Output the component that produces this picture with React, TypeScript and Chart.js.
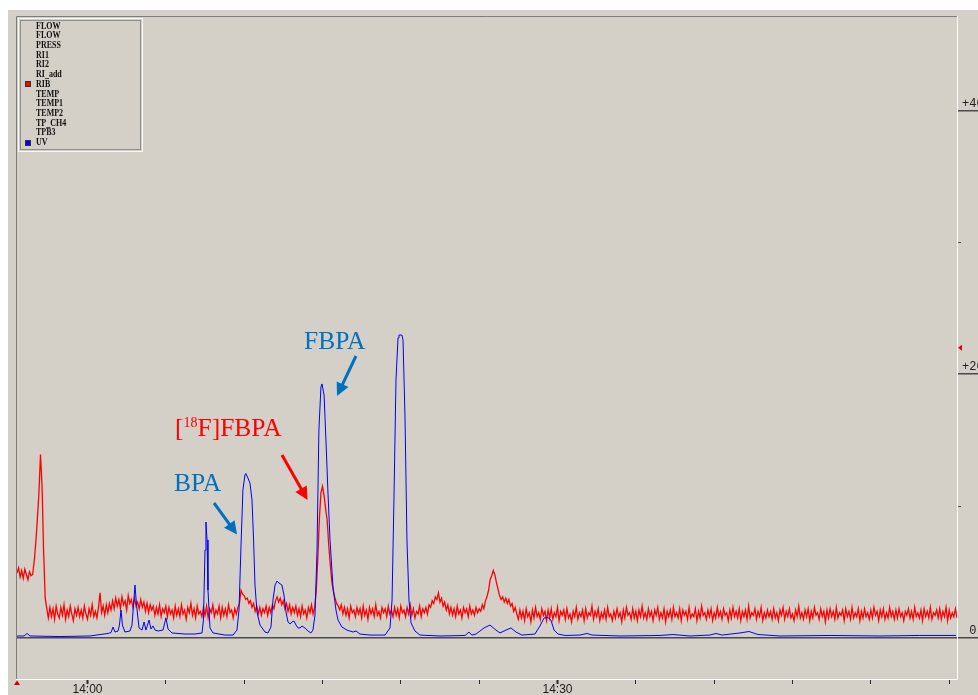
import React, { useEffect, useRef } from 'react';
import { Chart, registerables } from 'chart.js';

Chart.register(...registerables);

// ---- axis definitions (minutes relative to 14:00, detector units) ----
const timeRangeMinutes = [-4.5, 55.5];
const timeTickMinutes = [0, 5, 10, 15, 20, 25, 30, 35, 40, 45, 50, 55];
const timeTickLabels = ['14:00', '', '', '', '', '', '14:30', '', '', '', '', ''];
const signalRange = [-3.21, 47.11];
const signalTicks = [0, 10, 20, 30, 40];
const signalTickLabels = [' 0', '', '+20', '', '+40'];
const minorSignalTicks = [10, 30];
const rightMarkerLevel = 22;

// ---- RIB (radio detector) trace: sampled every 0.1 min from -4.5 min ----
const ribStartMinute = -4.5;
const ribStepMinutes = 0.1;
const ribValues = [
  4.9, 5.3, 4.6, 5.1, 4.5, 5.2, 4.8, 4.4, 5.0, 4.7, 4.8, 5.8, 7.2, 9.0, 11.0, 13.9, 11.5, 6.5, 3.0, 2.2,
  1.5, 2.3, 1.6, 2.2, 1.4, 2.4, 1.8, 1.5, 2.3, 1.7, 2.5, 1.4, 2.1, 1.6, 2.4, 1.8, 1.3, 2.2, 1.7, 2.3,
  1.6, 2.1, 1.5, 2.4, 1.8, 1.4, 2.2, 1.7, 2.5, 1.6, 2.0, 1.5, 2.3, 3.4, 1.9, 2.4, 1.7, 2.5, 1.9, 2.6,
  2.1, 2.8, 2.2, 3.0, 2.4, 2.9, 2.2, 3.1, 2.5, 2.8, 2.1, 3.2, 2.6, 2.9, 2.3, 3.0, 2.4, 2.7, 2.2, 2.9,
  2.3, 2.7, 2.0, 2.6, 1.9, 2.5, 2.1, 2.4, 1.7, 2.3, 1.8, 2.5, 1.6, 2.2, 1.9, 2.4, 1.6, 2.3, 1.8, 2.1,
  1.5, 2.4, 1.7, 2.2, 1.6, 2.5, 1.8, 2.1, 1.4, 2.3, 1.9, 2.6, 1.7, 2.2, 1.5, 2.4, 1.8, 2.0, 1.6, 2.3,
  1.7, 2.4, 1.5, 2.2, 1.9, 2.5, 1.6, 2.1, 1.8, 2.4, 1.5, 2.3, 1.7, 2.2, 1.6, 2.5, 1.9, 2.1, 1.5, 2.2,
  1.8, 2.3, 2.6, 3.6, 3.3, 3.2, 2.9, 3.0, 2.6, 2.8, 2.3, 2.6, 2.0, 2.4, 1.8, 2.3, 1.7, 2.2, 1.9, 2.4,
  1.7, 2.3, 1.9, 2.5, 2.2, 2.8, 3.1, 2.7, 3.0, 2.5, 2.8, 2.2, 2.6, 2.0, 2.5, 1.8, 2.3, 1.9, 2.4, 1.7,
  2.2, 1.6, 2.4, 1.8, 2.1, 1.5, 2.3, 1.9, 2.5, 1.8, 2.3, 3.5, 6.0, 9.0, 11.0, 11.5, 10.8, 9.8, 8.9, 7.0,
  5.5, 4.2, 3.5, 3.0, 2.6, 2.4, 2.1, 2.5, 1.8, 2.3, 1.7, 2.2, 1.5, 2.4, 1.9, 2.1, 1.6, 2.3, 1.8, 2.2,
  1.5, 2.4, 1.7, 2.1, 1.4, 2.3, 1.8, 2.2, 1.6, 2.5, 1.7, 2.0, 1.5, 2.3, 1.9, 2.2, 1.6, 2.4, 1.8, 2.1,
  1.6, 2.3, 1.7, 2.2, 1.5, 2.4, 1.9, 2.1, 1.6, 2.3, 1.8, 2.5, 1.7, 2.2, 1.5, 2.0, 1.8, 2.4, 1.6, 2.2,
  1.9, 2.3, 1.8, 2.5, 2.3, 2.8, 2.6, 3.1, 2.9, 3.4, 2.7, 3.0, 2.4, 2.7, 2.1, 2.5, 1.8, 2.3, 1.7, 2.2,
  1.6, 2.4, 1.8, 2.1, 1.5, 2.3, 1.9, 2.2, 1.6, 2.4, 1.8, 2.1, 1.7, 2.3, 1.9, 2.2, 2.0, 2.5, 2.2, 2.8,
  3.1, 3.6, 4.4, 4.7, 5.1, 4.8, 4.2, 3.7, 3.2, 2.9, 3.1, 2.7, 3.0, 2.6, 2.9, 2.4, 2.6, 2.0, 2.3, 1.8,
  1.4, 2.1, 1.5, 2.0, 1.3, 2.2, 1.6, 1.9, 1.2, 2.1, 1.5, 2.3, 1.6, 1.9, 1.4, 2.2, 1.7, 2.0, 1.3, 2.1,
  1.5, 2.2, 1.4, 1.9, 1.6, 2.3, 1.3, 2.0, 1.7, 2.1, 1.4, 2.2, 1.5, 1.8, 1.2, 2.0, 1.6, 2.3, 1.4, 1.9,
  1.6, 2.1, 1.3, 2.2, 1.5, 1.9, 1.7, 2.4, 1.4, 2.0, 1.6, 2.2, 1.3, 1.9, 1.5, 2.1, 1.4, 2.3, 1.6, 1.8,
  1.3, 2.0, 1.5, 2.2, 1.6, 1.9, 1.2, 2.1, 1.5, 2.3, 1.7, 1.9, 1.4, 2.2, 1.5, 2.0, 1.3, 2.1, 1.6, 2.4,
  1.5, 1.9, 1.4, 2.2, 1.6, 2.0, 1.3, 2.1, 1.7, 2.3, 1.4, 1.9, 1.5, 2.2, 1.2, 2.0, 1.6, 2.1, 1.4, 2.3,
  1.6, 1.9, 1.5, 2.2, 1.3, 2.1, 1.7, 2.0, 1.4, 2.3, 1.5, 1.8, 1.6, 2.2, 1.3, 2.0, 1.5, 2.4, 1.7, 1.9,
  1.4, 2.1, 1.6, 2.2, 1.3, 1.9, 1.5, 2.3, 1.6, 2.0, 1.4, 2.2, 1.7, 1.9, 1.3, 2.1, 1.5, 2.3, 1.6, 2.0,
  1.5, 2.2, 1.3, 2.0, 1.6, 2.1, 1.4, 2.4, 1.5, 1.9, 1.7, 2.2, 1.4, 2.0, 1.6, 2.3, 1.3, 1.9, 1.5, 2.1,
  1.6, 2.0, 1.4, 2.2, 1.5, 1.9, 1.3, 2.1, 1.7, 2.3, 1.4, 2.0, 1.6, 2.2, 1.5, 1.8, 1.3, 2.1, 1.6, 2.4,
  1.5, 1.9, 1.4, 2.1, 1.6, 2.2, 1.3, 2.0, 1.5, 2.3, 1.7, 1.9, 1.4, 2.2, 1.6, 2.0, 1.2, 2.1, 1.5, 2.2,
  1.6, 2.0, 1.4, 2.3, 1.5, 1.9, 1.7, 2.1, 1.3, 2.2, 1.6, 2.0, 1.4, 2.3, 1.5, 1.9, 1.6, 2.2, 1.3, 2.0,
  1.5, 2.2, 1.6, 1.9, 1.4, 2.1, 1.5, 2.3, 1.7, 2.0, 1.3, 2.1, 1.6, 2.2, 1.4, 1.9, 1.5, 2.3, 1.6, 2.0,
  1.4, 2.1, 1.5, 2.2, 1.6, 1.9, 1.3, 2.0, 1.7, 2.2, 1.5, 2.0, 1.4, 2.3, 1.6, 1.9, 1.5, 2.1, 1.3, 2.2,
  1.6, 2.0, 1.5, 2.3, 1.4, 1.9, 1.7, 2.1, 1.5, 2.2, 1.4, 2.0, 1.6, 2.3, 1.3, 2.1, 1.5, 1.9, 1.6, 2.2,
  1.5,
];

// ---- UV trace ----
const uvMinutes = [
  -4.5, -4.05, -3.86, -3.67, -1.76, 0.16, 0.8, 1.31, 1.5, 1.63,
  1.76, 1.95, 2.04, 2.14, 2.23, 2.39, 2.71, 2.84, 2.94, 3.03,
  3.13, 3.29, 3.48, 3.61, 3.73, 3.93, 4.05, 4.18, 4.31, 4.5,
  4.82, 5.01, 5.14, 5.39, 6.22, 6.86, 7.31, 7.4, 7.5, 7.56,
  7.63, 7.69, 7.82, 8.01, 8.78, 9.29, 9.54, 9.67, 9.8, 9.92,
  10.05, 10.11, 10.24, 10.37, 10.5, 10.6, 10.69, 10.82, 11.01, 11.33,
  11.52, 11.71, 11.84, 11.97, 12.1, 12.22, 12.41, 12.54, 12.67, 12.8,
  12.93, 13.05, 13.18, 13.31, 13.44, 13.56, 13.69, 13.88, 14.07, 14.26,
  14.39, 14.52, 14.65, 14.77, 14.9, 14.97, 15.1, 15.22, 15.35, 15.48,
  15.67, 15.86, 15.99, 16.24, 16.56, 16.95, 17.14, 17.39, 18.03, 18.99,
  19.31, 19.44, 19.56, 19.69, 19.82, 19.88, 20.07, 20.14, 20.27, 20.39,
  20.52, 20.65, 20.9, 21.22, 22.5, 24.1, 24.35, 24.54, 24.8, 25.31,
  25.69, 26.07, 26.33, 26.71, 27.03, 27.35, 27.73, 28.56, 28.88, 29.14,
  29.39, 29.58, 29.78, 30.03, 30.48, 31.44, 31.88, 32.2, 33.99, 36.54,
  37.37, 38.46, 39.73, 40.12, 40.5, 41.65, 42.22, 42.8, 44.2, 47.39,
  50.58, 53.13, 55.43,
];
const uvValues = [
  0.13, 0.13, 0.32, 0.13, 0.09, 0.13, 0.24, 0.32, 0.39, 0.81,
  0.43, 0.51, 0.96, 2.1, 0.96, 0.43, 0.51, 0.96, 2.48, 4.0,
  2.48, 0.74, 0.58, 1.19, 0.58, 1.34, 0.66, 0.89, 0.58, 0.51,
  0.58, 1.51, 0.66, 0.36, 0.28, 0.28, 0.36, 1.34, 6.66, 8.78,
  7.42, 3.62, 0.74, 0.36, 0.2, 0.2, 0.58, 2.1, 7.04, 11.21,
  12.35, 12.46, 12.12, 11.74, 10.45, 7.42, 4.0, 1.95, 0.96, 0.43,
  0.36, 0.81, 2.86, 4.0, 4.3, 4.15, 4.0, 3.24, 1.95, 1.19,
  1.04, 1.19, 1.27, 0.96, 0.74, 0.74, 0.89, 0.74, 0.51, 0.36,
  0.58, 1.72, 6.66, 15.77, 19.03, 19.26, 18.42, 15.01, 10.98, 7.42,
  3.85, 2.1, 1.34, 0.81, 0.58, 0.43, 0.51, 0.28, 0.2, 0.2,
  0.74, 2.86, 10.45, 19.56, 22.75, 22.97, 22.97, 22.6, 16.52, 7.42,
  2.86, 1.12, 0.51, 0.2, 0.13, 0.17, 0.43, 0.2, 0.28, 0.74,
  0.96, 0.58, 0.36, 0.58, 0.74, 0.43, 0.2, 0.28, 0.89, 1.5,
  1.53, 1.34, 0.58, 0.28, 0.17, 0.2, 0.32, 0.2, 0.13, 0.17,
  0.24, 0.13, 0.2, 0.32, 0.2, 0.36, 0.47, 0.24, 0.13, 0.17,
  0.13, 0.17, 0.17,
];

// ---- legend channels ----
const channelNames = ['FLOW', 'FLOW', 'PRESS', 'RI1', 'RI2', 'RI_add', 'RIB', 'TEMP', 'TEMP1', 'TEMP2', 'TP_CH4', 'TPB3', 'UV'];
const channelColors: Record<string, string> = { RIB: '#ff0000', UV: '#0000ff' };

const GREY = '#d4d0c8';
const ANNOT_BLUE = '#0070c0';
const ANNOT_RED = '#ff0000';

const framePlugin = {
  id: 'framePlugin',
  beforeDraw(chart: any) {
    const { ctx, width, height } = chart;
    ctx.save();
    ctx.fillStyle = '#ffffff';
    ctx.fillRect(0, 0, width, height);
    ctx.fillStyle = GREY;
    ctx.fillRect(8, 10, width - 8, height - 10);
    ctx.restore();
  },
  afterDraw(chart: any) {
    const { ctx, chartArea } = chart;
    const { left, top, right } = chartArea;
    const frameBottom = chartArea.bottom - 0.5;
    ctx.save();
    ctx.lineWidth = 1;
    ctx.strokeStyle = '#7c7c7c';
    ctx.beginPath();
    ctx.moveTo(left - 0.5, frameBottom);
    ctx.lineTo(left - 0.5, top - 0.5);
    ctx.lineTo(right, top - 0.5);
    ctx.stroke();
    ctx.strokeStyle = '#ffffff';
    ctx.beginPath();
    ctx.moveTo(right + 0.5, top - 1);
    ctx.lineTo(right + 0.5, frameBottom);
    ctx.lineTo(left - 1, frameBottom);
    ctx.stroke();

    const yScale = chart.scales.y;
    const xScale = chart.scales.x;
    ctx.strokeStyle = '#505050';
    minorSignalTicks.forEach((v) => {
      const py = Math.round(yScale.getPixelForValue(v)) + 0.5;
      ctx.beginPath();
      ctx.moveTo(right + 1, py);
      ctx.lineTo(right + 4, py);
      ctx.stroke();
    });

    // level marker (right)
    const my = yScale.getPixelForValue(rightMarkerLevel);
    ctx.fillStyle = '#e00000';
    ctx.beginPath();
    ctx.moveTo(right + 1, my);
    ctx.lineTo(right + 5, my - 3);
    ctx.lineTo(right + 5, my + 3);
    ctx.closePath();
    ctx.fill();

    // start marker (bottom-left)
    const sx = xScale.getPixelForValue(timeRangeMinutes[0]);
    const sy = chartArea.bottom;
    ctx.fillStyle = '#d00000';
    ctx.beginPath();
    ctx.moveTo(sx, sy + 0.5);
    ctx.lineTo(sx - 3, sy + 5);
    ctx.lineTo(sx + 3, sy + 5);
    ctx.closePath();
    ctx.fill();
    ctx.restore();
  },
};

function Arrow({ x1, y1, x2, y2, color }: { x1: number; y1: number; x2: number; y2: number; color: string }) {
  const dx = x2 - x1;
  const dy = y2 - y1;
  const len = Math.hypot(dx, dy);
  const ux = dx / len;
  const uy = dy / len;
  const headLen = 13;
  const headHalf = 6.5;
  const bx = x2 - ux * headLen;
  const by = y2 - uy * headLen;
  const nx = -uy;
  const ny = ux;
  const pts = `${x2},${y2} ${bx + nx * headHalf},${by + ny * headHalf} ${bx - nx * headHalf},${by - ny * headHalf}`;
  return (
    <g>
      <line x1={x1} y1={y1} x2={bx + ux} y2={by + uy} stroke={color} strokeWidth={3} />
      <polygon points={pts} fill={color} />
    </g>
  );
}

export default function App() {
  const canvasRef = useRef<HTMLCanvasElement | null>(null);

  useEffect(() => {
    const canvas = canvasRef.current;
    if (!canvas) return;
    const ribPoints = ribValues.map((v, i) => ({ x: ribStartMinute + i * ribStepMinutes, y: v }));
    const uvPoints = uvMinutes.map((t, i) => ({ x: t, y: uvValues[i] }));

    const chart = new Chart(canvas, {
      type: 'line',
      data: {
        datasets: [
          {
            label: 'UV',
            data: uvPoints,
            borderColor: channelColors.UV,
            borderWidth: 1,
            pointRadius: 0,
            tension: 0,
            fill: false,
          },
          {
            label: 'RIB',
            data: ribPoints,
            borderColor: channelColors.RIB,
            borderWidth: 1.3,
            pointRadius: 0,
            tension: 0,
            fill: false,
          },
        ],
      },
      options: {
        animation: false,
        responsive: false,
        maintainAspectRatio: false,
        events: [],
        layout: { padding: { left: 17, top: 17, right: 0, bottom: 0 } },
        plugins: { legend: { display: false }, tooltip: { enabled: false } },
        scales: {
          x: {
            type: 'linear',
            position: 'bottom',
            min: timeRangeMinutes[0],
            max: timeRangeMinutes[1],
            border: { display: false },
            grid: {
              drawOnChartArea: false,
              drawTicks: true,
              tickLength: 4,
              tickColor: '#2a2a2a',
              tickWidth: (ctx: any) => (ctx.index !== undefined && timeTickLabels[ctx.index] ? 2 : 1),
            },
            ticks: {
              autoSkip: false,
              maxRotation: 0,
              padding: -2,
              color: '#1a1a1a',
              font: { family: 'Liberation Sans', size: 12 },
              callback: (_v: any, i: number) => timeTickLabels[i] ?? '',
            },
            afterBuildTicks: (s: any) => {
              s.ticks = timeTickMinutes.map((v) => ({ value: v }));
            },
            afterFit: (s: any) => {
              s.height = 15;
            },
          },
          y: {
            type: 'linear',
            position: 'right',
            min: signalRange[0],
            max: signalRange[1],
            border: { display: false },
            grid: {
              drawTicks: true,
              tickLength: 21,
              lineWidth: 1.5,
              color: (ctx: any) => (ctx.tick && ctx.tick.value === 0 ? '#4a4a4a' : 'rgba(0,0,0,0)'),
              tickColor: (ctx: any) => (ctx.index !== undefined && signalTickLabels[ctx.index] ? '#4a4a4a' : 'rgba(0,0,0,0)'),
            },
            ticks: {
              padding: -16,
              labelOffset: -7,
              color: '#202020',
              font: { family: 'Liberation Mono', size: 12 },
              callback: (_v: any, i: number) => signalTickLabels[i] ?? '',
            },
            afterBuildTicks: (s: any) => {
              s.ticks = signalTicks.map((v) => ({ value: v }));
            },
            afterFit: (s: any) => {
              s.width = 21;
            },
          },
        },
      } as any,
      plugins: [framePlugin],
    });
    return () => chart.destroy();
  }, []);

  const annotFont = '25.5px "Liberation Serif", "Times New Roman", serif';

  return (
    <div style={{ position: 'absolute', left: 0, top: 0, width: 978, height: 695, overflow: 'hidden' }}>
      <canvas ref={canvasRef} width={978} height={695} style={{ position: 'absolute', left: 0, top: 0, width: 978, height: 695 }} />

      {/* channel legend */}
      <div style={{ position: 'absolute', left: 18, top: 18, width: 123, height: 132, border: '1px solid #f6f6f4' }} />
      <div style={{ position: 'absolute', left: 20, top: 20, width: 119, height: 128, border: '1px solid #8e8e8e' }} />
      {channelNames.map((name, i) => (
        <div
          key={i}
          style={{
            position: 'absolute',
            left: 0,
            top: 20.5 + i * 9.72,
            height: 9.72,
            width: 140,
            font: 'bold 10px "Liberation Serif", serif',
            lineHeight: '9.72px',
            color: '#111',
            whiteSpace: 'nowrap',
          }}
        >
          {channelColors[name] ? (
            <span
              style={{
                position: 'absolute',
                left: 25,
                top: 2.5,
                width: 4,
                height: 4,
                background: channelColors[name],
                border: '0.5px solid #333',
              }}
            />
          ) : null}
          <span style={{ position: 'absolute', left: 36, top: 0, transform: 'scaleX(0.8)', transformOrigin: 'left center' }}>{name}</span>
        </div>
      ))}

      {/* peak annotations */}
      <div style={{ position: 'absolute', left: 304, top: 328.2, font: annotFont, lineHeight: 1, color: ANNOT_BLUE, whiteSpace: 'nowrap' }}>FBPA</div>
      <div style={{ position: 'absolute', left: 175, top: 414.6, font: annotFont, lineHeight: 1, color: ANNOT_RED, whiteSpace: 'nowrap' }}>
        [<span style={{ fontSize: 14, position: 'relative', top: -8.7 }}>18</span>F]FBPA
      </div>
      <div style={{ position: 'absolute', left: 174, top: 469.6, font: annotFont, lineHeight: 1, color: ANNOT_BLUE, whiteSpace: 'nowrap' }}>BPA</div>

      <svg width={978} height={695} style={{ position: 'absolute', left: 0, top: 0, pointerEvents: 'none' }}>
        <Arrow x1={356} y1={356} x2={337} y2={396} color={ANNOT_BLUE} />
        <Arrow x1={282} y1={455} x2={307.5} y2={500} color={ANNOT_RED} />
        <Arrow x1={214} y1={503} x2={237} y2={534.5} color={ANNOT_BLUE} />
      </svg>
    </div>
  );
}
